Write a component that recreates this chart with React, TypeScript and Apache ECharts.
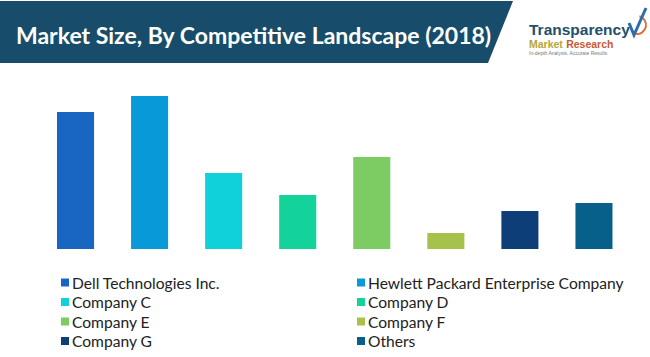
import React, { useEffect, useRef } from "react";
import * as echarts from "echarts";

const categories = [
  "Dell Technologies Inc.",
  "Hewlett Packard Enterprise Company",
  "Company C",
  "Company D",
  "Company E",
  "Company F",
  "Company G",
  "Others",
];
const values = [137, 153, 76, 54, 92, 16, 38, 46];
const colors = ["#1866c2", "#0799d8", "#10d0da", "#13d29a", "#7ccc63", "#a6c24a", "#0d3e78", "#07608a"];
const titleText = "Market Size, By Competitive Landscape (2018)";
const leftLegend = ["Dell Technologies Inc.", "Company C", "Company E", "Company G"];
const rightLegend = ["Hewlett Packard Enterprise Company", "Company D", "Company F", "Others"];

export default function App() {
  const ref = useRef<HTMLDivElement>(null);
  useEffect(() => {
    document.body.style.margin = "0";
    const chart = echarts.init(ref.current!, null, { renderer: "svg" });
    const series = categories.map((name, i) => ({
      name,
      type: "bar",
      stack: "all",
      barWidth: "50%",
      itemStyle: { color: colors[i] },
      data: categories.map((_, j) => (j === i ? values[i] : "-")),
    }));
    const legendCommon = {
      orient: "vertical",
      top: 274.5,
      padding: 0,
      itemWidth: 8,
      itemHeight: 8,
      itemGap: 3.5,
      icon: "rect",
      selectedMode: false,
      textStyle: {
        fontFamily: "Lato",
        fontSize: 15.6,
        color: "#222",
        lineHeight: 16,
        padding: [0, 0, 0, -2],
      },
    };
    chart.setOption({
      animation: false,
      backgroundColor: "#ffffff",
      grid: { left: 38.5, width: 592.5, top: 89, height: 160, containLabel: false },
      xAxis: {
        type: "category",
        data: categories,
        show: false,
      },
      yAxis: { type: "value", min: 0, max: 160, show: false },
      legend: [
        { ...legendCommon, left: 61, data: leftLegend },
        { ...legendCommon, left: 357, data: rightLegend },
      ],
      series,
      graphic: [
        {
          type: "polygon",
          shape: { points: [[0, 1], [513, 1], [488, 63], [0, 63]] },
          style: { fill: "#174d6b" },
        },
        {
          type: "text",
          x: 16,
          y: 35,
          style: {
            text: titleText,
            fill: "#ffffff",
            font: "bold 23px Lato",
            verticalAlign: "middle",
          },
        },
        {
          type: "text",
          x: 529,
          y: 29,
          style: {
            text: "Transparency",
            fill: "#1f4e6e",
            font: "bold 15.5px 'Liberation Sans Narrow', 'Liberation Sans'",
            verticalAlign: "middle",
          },
        },
        {
          type: "arc",
          shape: { cx: 637, cy: 25, r: 9, startAngle: -1.3, endAngle: 1.7 },
          style: { stroke: "#e0703a", lineWidth: 2, fill: "none" },
        },
        {
          type: "polyline",
          shape: { points: [[629, 23], [634, 35], [646, 8]] },
          style: { stroke: "#2a6fa8", lineWidth: 3, fill: "none" },
        },
        {
          type: "text",
          x: 529,
          y: 44,
          style: {
            text: "{a|Market} {b|Research}",
            rich: {
              a: { fill: "#b3a73a", font: "bold 10.5px 'Liberation Sans Narrow', 'Liberation Sans'" },
              b: { fill: "#c85a30", font: "bold 10.5px 'Liberation Sans Narrow', 'Liberation Sans'" },
            },
            verticalAlign: "middle",
          },
        },
        {
          type: "text",
          x: 529,
          y: 53,
          style: {
            text: "In-depth Analysis. Accurate Results",
            fill: "#777",
            font: "5px 'Liberation Sans'",
            verticalAlign: "middle",
          },
        },
      ],
    });
    return () => chart.dispose();
  }, []);
  return <div ref={ref} style={{ width: 650, height: 357 }} />;
}
